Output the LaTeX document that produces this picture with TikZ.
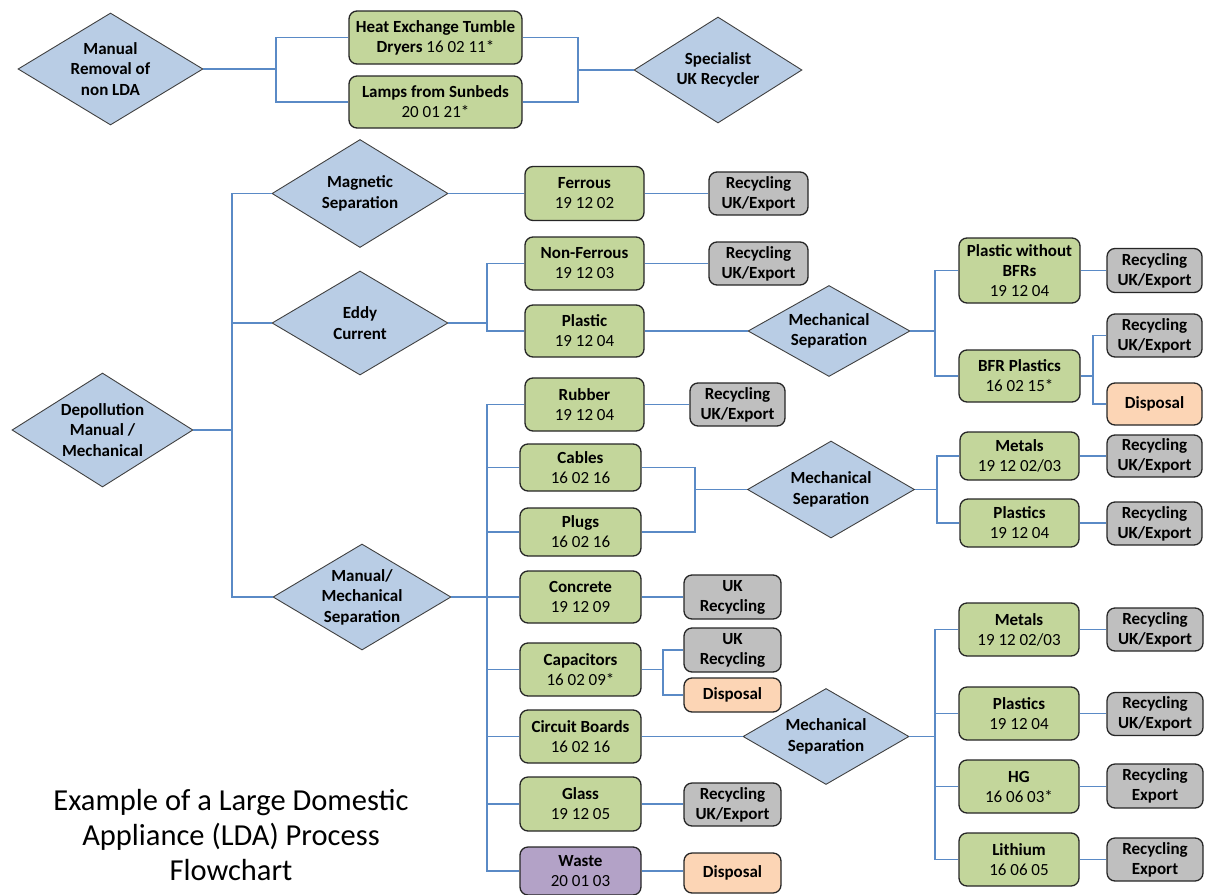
\documentclass[tikz,border=0pt]{standalone}
\usepackage{fontspec}
\setmainfont{Carlito}
\usetikzlibrary{shapes.geometric}
\definecolor{dfill}{HTML}{B9CDE5}
\definecolor{dline}{HTML}{404040}
\definecolor{gfill}{HTML}{C3D69B}
\definecolor{grfill}{HTML}{BFBFBF}
\definecolor{pfill}{HTML}{FCD5B5}
\definecolor{vfill}{HTML}{B3A2C7}
\definecolor{cline}{HTML}{5A8AC6}
\tikzset{
  dia/.style={diamond, draw=dline, line width=0.9pt, fill=dfill, inner sep=-10pt, align=center,
    font=\fontsize{17}{20.5}\selectfont\bfseries},
  bx/.style={draw=black!85, line width=1.3pt, rounded corners=8pt, inner sep=0pt, align=center,
    font=\fontsize{17}{20}\selectfont},
  gbox/.style={bx, fill=gfill},
  rbox/.style={bx, fill=grfill, font=\fontsize{17}{20}\selectfont\bfseries},
  dbox/.style={bx, fill=pfill, font=\fontsize{17}{20}\selectfont\bfseries},
  wbox/.style={bx, fill=vfill},
  conn/.style={draw=cline, line width=1.3pt},
  sz/.style 2 args={minimum width=#1pt, minimum height=#2pt},
}
\begin{document}
\begin{tikzpicture}[x=1pt,y=-1pt]
\useasboundingbox (0,0) rectangle (1207,894);
% ---------- top ----------
\node[dia, sz={185}{112}] (mr) at (110.5,69) {Manual\\Removal of\\non LDA};
\node[gbox, sz={173}{53}] (hx) at (435.5,37.5) {\textbf{Heat Exchange Tumble}\\\textbf{Dryers} 16 02 11*};
\node[gbox, sz={173}{52}] (lp) at (435.5,102) {\textbf{Lamps from Sunbeds}\\20 01 21*};
\node[dia, sz={168}{106}] (sp) at (718,70) {Specialist\\UK Recycler};
\coordinate (b1) at (276,0);
\coordinate (b2) at (578,0);
\draw[conn] (mr.east) -- (mr.east -| b1);
\draw[conn] (hx.west) -- (hx.west -| b1) |- (lp.west);
\draw[conn] (hx.east) -- (hx.east -| b2) |- (lp.east);
\draw[conn] (sp.west) -- (sp.west -| b2);
% ---------- depollution ----------
\node[dia, sz={181}{114}] (dp) at (102.5,430) {Depollution\\Manual /\\Mechanical};
\node[dia, sz={176}{108}] (ms) at (360,193.5) {Magnetic\\Separation};
\node[dia, sz={176}{104}] (ec) at (360,323) {Eddy\\Current};
\node[dia, sz={178}{106}] (mm) at (362,597) {Manual/\\Mechanical\\Separation};
\coordinate (bd) at (232,0);
\draw[conn] (dp.east) -- (dp.east -| bd);
\draw[conn] (ms.west) -- (ms.west -| bd) |- (mm.west);
\draw[conn] (ec.west) -- (ec.west -| bd);
% ---------- magnetic / eddy ----------
\node[gbox, sz={119}{54}] (fe) at (584.5,193.5) {\textbf{Ferrous}\\19 12 02};
\node[rbox, sz={99}{43}] (r1) at (758.5,193.5) {Recycling\\UK/Export};
\node[gbox, sz={119}{53}] (nf) at (584.5,263.5) {\textbf{Non-Ferrous}\\19 12 03};
\node[rbox, sz={99}{43}] (r2) at (758.5,263.5) {Recycling\\UK/Export};
\node[gbox, sz={119}{52}] (pl) at (584.5,331) {\textbf{Plastic}\\19 12 04};
\draw[conn] (ms.east) -- (ms.east -| fe.west);
\draw[conn] (fe.east) -- (r1.west |- fe.east);
\draw[conn] (nf.east) -- (r2.west |- nf.east);
\coordinate (be) at (487,0);
\draw[conn] (ec.east) -- (ec.east -| be);
\draw[conn] (nf.west) -- (nf.west -| be) |- (pl.west);
\node[dia, sz={162}{91}] (m1) at (829,331) {Mechanical\\Separation};
\draw[conn] (pl.east) -- (pl.east -| m1.west);
\node[gbox, sz={121}{65}] (pw) at (1019.5,270.5) {\textbf{Plastic without}\\\textbf{BFRs}\\19 12 04};
\node[rbox, sz={95}{44}] (r3) at (1154.5,270.5) {Recycling\\UK/Export};
\node[gbox, sz={121}{52}] (bf) at (1019.5,376) {\textbf{BFR Plastics}\\16 02 15*};
\node[rbox, sz={95}{43}] (r4) at (1154.5,335.5) {Recycling\\UK/Export};
\node[dbox, sz={95}{42}] (d1) at (1154.5,404) {Disposal};
\coordinate (bp) at (935,0);
\draw[conn] (m1.east) -- (m1.east -| bp);
\draw[conn] (pw.west) -- (pw.west -| bp) |- (bf.west);
\draw[conn] (pw.east) -- (pw.east -| r3.west);
\coordinate (bb) at (1093,0);
\draw[conn] (bf.east) -- (bf.east -| bb);
\draw[conn] (r4.west) -- (r4.west -| bb) |- (d1.west);
% ---------- manual / mechanical ----------
\node[gbox, sz={119}{53}] (ru) at (584.5,404.5) {\textbf{Rubber}\\19 12 04};
\node[rbox, sz={95}{43}] (r5) at (737.5,404.5) {Recycling\\UK/Export};
\node[gbox, sz={121}{47}] (ca) at (580.5,467.5) {\textbf{Cables}\\16 02 16};
\node[gbox, sz={121}{48}] (pg) at (580.5,532) {\textbf{Plugs}\\16 02 16};
\node[gbox, sz={121}{52}] (co) at (580.5,597) {\textbf{Concrete}\\19 12 09};
\node[rbox, sz={97}{44}] (u1) at (732.5,597) {UK\\Recycling};
\node[gbox, sz={121}{53}] (cp) at (580.5,669.5) {\textbf{Capacitors}\\16 02 09*};
\node[rbox, sz={97}{44}] (u2) at (732.5,650) {UK\\Recycling};
\node[dbox, sz={97}{34}] (d2) at (732.5,695) {Disposal};
\node[gbox, sz={121}{53}] (cb) at (580.5,736.5) {\textbf{Circuit Boards}\\16 02 16};
\node[gbox, sz={121}{54}] (gl) at (580.5,804) {\textbf{Glass}\\19 12 05};
\node[rbox, sz={97}{43}] (r12) at (732.5,804.5) {Recycling\\UK/Export};
\node[wbox, sz={121}{48}] (wa) at (580.5,871) {\textbf{Waste}\\20 01 03};
\node[dbox, sz={97}{40}] (d3) at (732.5,873) {Disposal};
\coordinate (bm) at (487,0);
\draw[conn] (mm.east) -- (mm.east -| bm);
\draw[conn] (ru.west) -- (ru.west -| bm) |- (wa.west);
\draw[conn] (ca.west) -- (ca.west -| bm);
\draw[conn] (pg.west) -- (pg.west -| bm);
\draw[conn] (co.west) -- (co.west -| bm);
\draw[conn] (cp.west) -- (cp.west -| bm);
\draw[conn] (cb.west) -- (cb.west -| bm);
\draw[conn] (gl.west) -- (gl.west -| bm);
\draw[conn] (ru.east) -- (r5.west |- ru.east);
\draw[conn] (co.east) -- (u1.west |- co.east);
\draw[conn] (gl.east) -- (r12.west |- gl.east);
\draw[conn] (wa.east) -- (d3.west |- wa.east);
\coordinate (bc) at (663,0);
\draw[conn] (cp.east) -- (cp.east -| bc);
\draw[conn] (u2.west) -- (u2.west -| bc) |- (d2.west);
% cables / plugs -> mech sep 2
\node[dia, sz={167}{97}] (m2) at (831,489.5) {Mechanical\\Separation};
\coordinate (bk) at (695,0);
\draw[conn] (ca.east) -- (ca.east -| bk) |- (pg.east);
\draw[conn] (m2.west) -- (m2.west -| bk);
\node[gbox, sz={119}{48}] (me1) at (1019.5,456) {\textbf{Metals}\\19 12 02/03};
\node[rbox, sz={95}{42}] (r6) at (1154.5,456) {Recycling\\UK/Export};
\node[gbox, sz={119}{48}] (ps1) at (1019.5,523) {\textbf{Plastics}\\19 12 04};
\node[rbox, sz={95}{43}] (r7) at (1154.5,523.5) {Recycling\\UK/Export};
\coordinate (bq) at (937,0);
\draw[conn] (m2.east) -- (m2.east -| bq);
\draw[conn] (me1.west) -- (me1.west -| bq) |- (ps1.west);
\draw[conn] (me1.east) -- (r6.west |- me1.east);
\draw[conn] (ps1.east) -- (r7.west |- ps1.east);
% circuit boards -> mech sep 3
\node[dia, sz={166}{96}] (m3) at (826,736.5) {Mechanical\\Separation};
\draw[conn] (cb.east) -- (cb.east -| m3.west);
\node[gbox, sz={120}{53}] (me2) at (1019,629.5) {\textbf{Metals}\\19 12 02/03};
\node[rbox, sz={96}{43}] (r8) at (1155,629.5) {Recycling\\UK/Export};
\node[gbox, sz={120}{53}] (ps2) at (1019,713.5) {\textbf{Plastics}\\19 12 04};
\node[rbox, sz={96}{43}] (r9) at (1155,714) {Recycling\\UK/Export};
\node[gbox, sz={120}{53}] (hg) at (1019,786.5) {\textbf{HG}\\16 06 03*};
\node[rbox, sz={96}{44}] (r10) at (1155,786) {Recycling\\Export};
\node[gbox, sz={120}{53}] (li) at (1019,859.5) {\textbf{Lithium}\\16 06 05};
\node[rbox, sz={96}{43}] (r11) at (1155,859.5) {Recycling\\Export};
\coordinate (br) at (935,0);
\draw[conn] (m3.east) -- (m3.east -| br);
\draw[conn] (me2.west) -- (me2.west -| br) |- (li.west);
\draw[conn] (ps2.west) -- (ps2.west -| br);
\draw[conn] (hg.west) -- (hg.west -| br);
\draw[conn] (me2.east) -- (r8.west |- me2.east);
\draw[conn] (ps2.east) -- (r9.west |- ps2.east);
\draw[conn] (hg.east) -- (r10.west |- hg.east);
\draw[conn] (li.east) -- (r11.west |- li.east);
% ---------- title ----------
\node[align=center, font=\fontsize{30.5}{35}\selectfont] (title) at (231,835) {Example of a Large Domestic\\Appliance (LDA) Process\\Flowchart};
\end{tikzpicture}
\end{document}
